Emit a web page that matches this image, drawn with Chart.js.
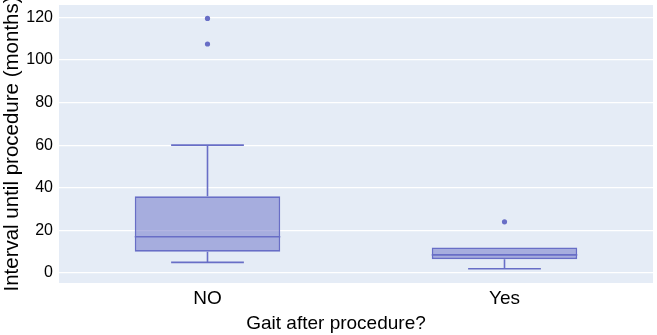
<!DOCTYPE html>
<html>
<head>
<meta charset="utf-8">
<script src="https://cdn.jsdelivr.net/npm/chart.js@4/dist/chart.umd.min.js"></script>
<style>
  html, body { margin: 0; padding: 0; background: #fff; }
  #wrap { width: 657px; height: 335px; }
</style>
</head>
<body>
<div id="wrap"><canvas id="myChart"></canvas></div>
<script>
// box plot values
var categorias = ['NO', 'Yes'];
var bigodeMin = [5, 2];
var quartil1 = [10, 6.5];
var mediana = [17, 8.5];
var quartil3 = [36, 12];
var bigodeMax = [60, 12];
var outliersCategoria = ['NO', 'NO', 'Yes'];
var outliersValor = [119.5, 107.5, 24];
var ticksY = [0, 20, 40, 60, 80, 100, 120];
var tituloX = 'Gait after procedure?';
var tituloY = 'Interval until procedure (months)';

var corLinha = 'rgb(104, 110, 198)';
var corCaixa = 'rgba(104, 110, 198, 0.5)';

// fundo da area do grafico
var fundoPlugin = {
    id: 'fundo',
    beforeDraw: function (chart) {
        var a = chart.chartArea, ctx = chart.ctx;
        ctx.save();
        ctx.fillStyle = '#e5ecf6';
        ctx.fillRect(a.left, a.top, a.right - a.left, a.bottom - a.top);
        ctx.restore();
    }
};

// titulo do eixo x (um pouco deslocado para a esquerda, como no original)
var tituloXPlugin = {
    id: 'tituloX',
    afterDraw: function (chart) {
        var a = chart.chartArea, ctx = chart.ctx;
        ctx.save();
        ctx.fillStyle = '#000';
        ctx.font = '19px "Liberation Sans"';
        ctx.textAlign = 'center';
        ctx.textBaseline = 'middle';
        ctx.fillText(tituloX, (a.left + a.right) / 2 - 20, 324);
        ctx.restore();
    }
};

// bigodes e mediana desenhados sobre as barras
var boxPlugin = {
    id: 'boxplot',
    afterDatasetsDraw: function (chart) {
        var ctx = chart.ctx, y = chart.scales.y;
        var meta = chart.getDatasetMeta(0);
        ctx.save();
        ctx.strokeStyle = corLinha;
        ctx.lineWidth = 1.6;
        meta.data.forEach(function (bar, i) {
            var cx = bar.x, half = bar.width / 2, cap = half / 2;
            var yq1 = y.getPixelForValue(quartil1[i]);
            var yq3 = y.getPixelForValue(quartil3[i]);
            var ymed = y.getPixelForValue(mediana[i]);
            var ylo = y.getPixelForValue(bigodeMin[i]);
            var yhi = y.getPixelForValue(bigodeMax[i]);
            ctx.beginPath();
            ctx.moveTo(cx - half, ymed); ctx.lineTo(cx + half, ymed);
            if (yhi < yq3) {
                ctx.moveTo(cx, yq3); ctx.lineTo(cx, yhi);
                ctx.moveTo(cx - cap, yhi); ctx.lineTo(cx + cap, yhi);
            }
            if (ylo > yq1) {
                ctx.moveTo(cx, yq1); ctx.lineTo(cx, ylo);
                ctx.moveTo(cx - cap, ylo); ctx.lineTo(cx + cap, ylo);
            }
            ctx.stroke();
        });
        ctx.restore();
    }
};

var chartData = {
    labels: categorias,
    datasets: [
        {
            type: 'bar',
            data: categorias.map(function (c, i) { return [quartil1[i], quartil3[i]]; }),
            backgroundColor: corCaixa,
            borderColor: corLinha,
            borderWidth: 1.6,
            borderSkipped: false,
            categoryPercentage: 1,
            barPercentage: 0.49
        },
        {
            type: 'line',
            showLine: false,
            data: outliersCategoria.map(function (c, i) { return { x: c, y: outliersValor[i] }; }),
            pointRadius: 2.6,
            pointBackgroundColor: corLinha,
            pointBorderWidth: 0
        }
    ]
};

var chartOptions = {
    responsive: true,
    maintainAspectRatio: false,
    animation: false,
    layout: { padding: { top: 5, right: 4, left: 0, bottom: 0 } },
    plugins: {
        legend: { display: false },
        tooltip: { enabled: false }
    },
    scales: {
        x: {
            grid: { display: false, drawTicks: false },
            border: { display: false },
            ticks: { color: '#000', font: { family: 'Liberation Sans', size: 19 }, padding: 4 },
            title: { display: false },
            afterFit: function (scale) {
                scale.height = 52;
                scale.paddingLeft = 0;
                scale.paddingRight = 0;
            }
        },
        y: {
            min: -4.7,
            max: 125.8,
            grid: { color: '#ffffff', lineWidth: 1.2, drawTicks: false },
            border: { display: false },
            afterBuildTicks: function (scale) {
                scale.ticks = ticksY.map(function (v) { return { value: v }; });
            },
            ticks: { color: '#000', font: { family: 'Liberation Sans', size: 16 }, padding: 6 },
            title: {
                display: true,
                text: tituloY,
                color: '#000',
                font: { family: 'Liberation Sans', size: 20.5 },
                padding: { top: 0, bottom: 0 }
            },
            afterFit: function (scale) {
                scale.width = 59;
                scale.paddingTop = 0;
                scale.paddingBottom = 0;
            }
        }
    }
};

var chart = new Chart(document.getElementById('myChart').getContext('2d'), {
    type: 'bar',
    data: chartData,
    options: chartOptions,
    plugins: [fundoPlugin, boxPlugin, tituloXPlugin]
});
</script>
</body>
</html>
